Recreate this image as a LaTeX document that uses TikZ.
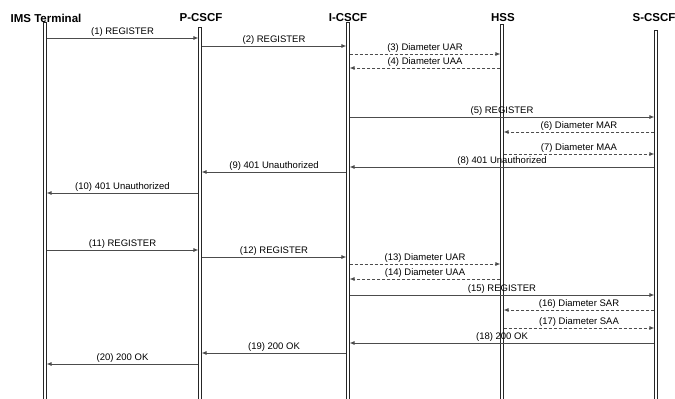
\documentclass[tikz,border=0pt]{standalone}
\usepackage{fontspec}
\setmainfont{Liberation Sans}
\usetikzlibrary{arrows.meta}
\tikzset{
  lifebar/.style={draw=black!85, line width=0.6pt, fill=white},
  head/.style={font=\fontsize{11.5}{12}\selectfont\bfseries, inner sep=0pt},
  msgline/.style={draw=black!70, line width=0.8pt, -{Latex[length=5pt,width=4pt]}, shorten >=1.6pt, shorten <=1.6pt},
  dmsg/.style={msgline, dash pattern=on 3pt off 2pt},
  lbl/.style={font=\fontsize{9.5}{10}\selectfont, inner sep=1.2pt, above, midway}
}
\newcommand{\msgarrow}[5]{\draw[#5] (#1|-0,#3) -- (#2|-0,#3) node[lbl]{#4};}
\newcommand{\lifebarat}[2]{\draw[lifebar] ([xshift=-1.5pt]#1|-0,#2) rectangle ([xshift=1.5pt]#1|-0,402);}
\begin{document}
\begin{tikzpicture}[x=1pt,y=-1pt]
\useasboundingbox (0,0) rectangle (675,399);
\coordinate (ims) at (45,0);
\coordinate (pcscf) at (200,0);
\coordinate (icscf) at (348,0);
\coordinate (hss) at (502,0);
\coordinate (scscf) at (656,0);
\node[head] (himsl) at (46,18) {IMS Terminal};
\node[head] (hp) at (201,18) {P-CSCF};
\node[head] (hi) at (348,18) {I-CSCF};
\node[head] (hh) at (503,18) {HSS};
\node[head] (hs) at (654,18) {S-CSCF};
\lifebarat{ims}{22}
\lifebarat{pcscf}{27}
\lifebarat{icscf}{22}
\lifebarat{hss}{24}
\lifebarat{scscf}{30}
\msgarrow{ims}{pcscf}{38}{(1) REGISTER}{msgline}
\msgarrow{pcscf}{icscf}{46}{(2) REGISTER}{msgline}
\msgarrow{icscf}{hss}{54}{(3) Diameter UAR}{dmsg}
\msgarrow{hss}{icscf}{68}{(4) Diameter UAA}{dmsg}
\msgarrow{icscf}{scscf}{117}{(5) REGISTER}{msgline}
\msgarrow{scscf}{hss}{132}{(6) Diameter MAR}{dmsg}
\msgarrow{hss}{scscf}{154}{(7) Diameter MAA}{dmsg}
\msgarrow{scscf}{icscf}{167}{(8) 401 Unauthorized}{msgline}
\msgarrow{icscf}{pcscf}{172}{(9) 401 Unauthorized}{msgline}
\msgarrow{pcscf}{ims}{193}{(10) 401 Unauthorized}{msgline}
\msgarrow{ims}{pcscf}{250}{(11) REGISTER}{msgline}
\msgarrow{pcscf}{icscf}{257}{(12) REGISTER}{msgline}
\msgarrow{icscf}{hss}{264}{(13) Diameter UAR}{dmsg}
\msgarrow{hss}{icscf}{279}{(14) Diameter UAA}{dmsg}
\msgarrow{icscf}{scscf}{295}{(15) REGISTER}{msgline}
\msgarrow{scscf}{hss}{310}{(16) Diameter SAR}{dmsg}
\msgarrow{hss}{scscf}{328}{(17) Diameter SAA}{dmsg}
\msgarrow{scscf}{icscf}{343}{(18) 200 OK}{msgline}
\msgarrow{icscf}{pcscf}{353}{(19) 200 OK}{msgline}
\msgarrow{pcscf}{ims}{364}{(20) 200 OK}{msgline}
\end{tikzpicture}
\end{document}
